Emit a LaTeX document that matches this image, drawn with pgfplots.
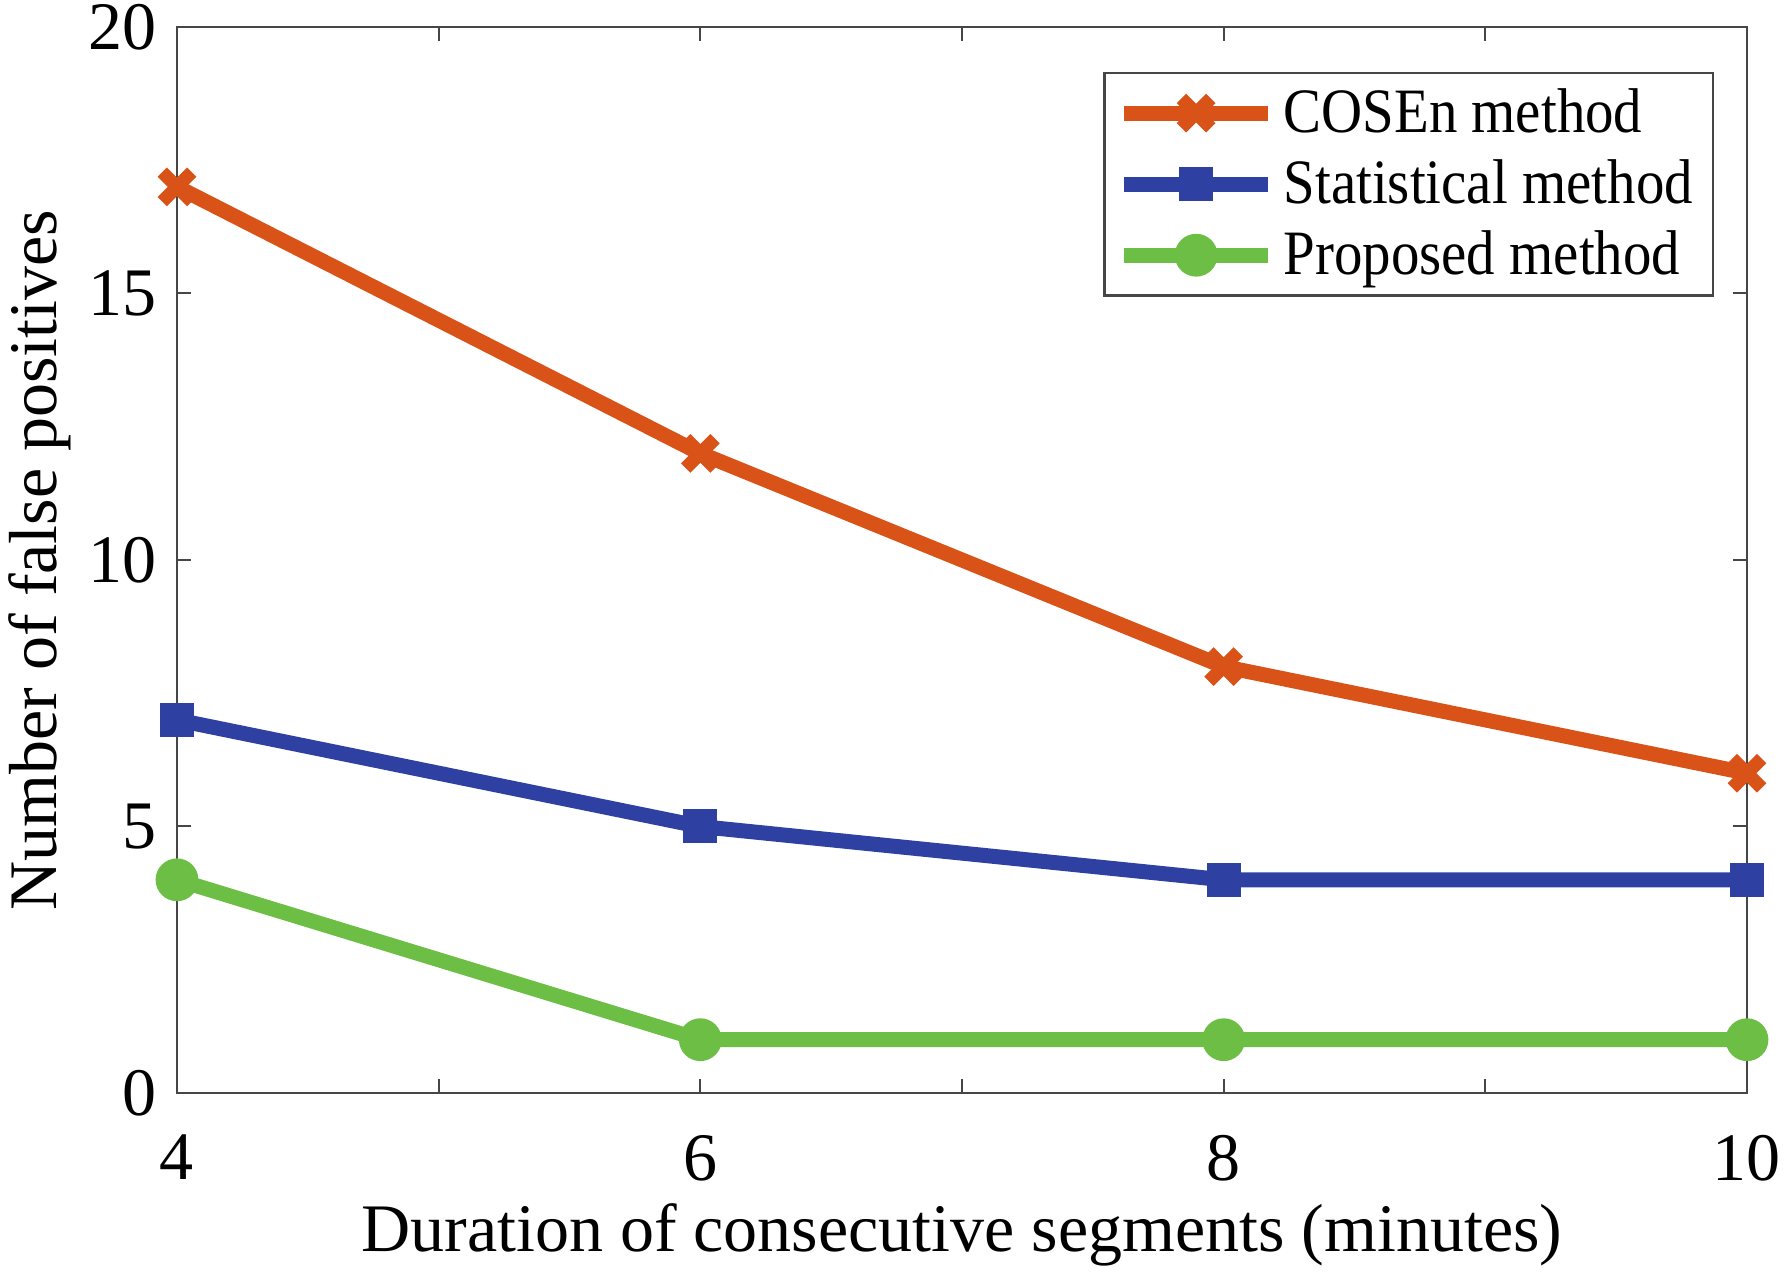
\documentclass[border=0pt]{standalone}
\usepackage{fontspec}
\setmainfont{Liberation Serif}
\newfontfamily\legfont{Liberation Serif}[FakeStretch=0.9]
\usepackage{pgfplots}
\pgfplotsset{compat=1.18}
\definecolor{cosen}{RGB}{217,83,25}
\definecolor{stat}{RGB}{46,64,162}
\definecolor{prop}{RGB}{108,190,69}
\definecolor{axgray}{RGB}{70,70,70}
\begin{document}
\begin{tikzpicture}
\useasboundingbox (-44.25pt,-45.25pt) rectangle (402.75pt,273.25pt);
\begin{axis}[
  at={(0,0)}, anchor=south west,
  scale only axis, width=392.5pt, height=266.5pt,
  xmin=4, xmax=10, ymin=0, ymax=20,
  xtick={4,5,6,7,8,9,10}, xticklabels={4,,6,,8,,10},
  ytick={0,5,10,15,20},
  tick align=inside, major tick length=3.5pt,
  every tick/.style={axgray, line width=0.5pt},
  axis line style={axgray, line width=0.5pt},
  font=\fontsize{17}{20}\selectfont,
  /pgf/number format/assume math mode=true,
  xticklabel style={yshift=-7pt},
  yticklabel style={xshift=-1.5pt},
  xlabel={Duration of consecutive segments (minutes)},
  ylabel={Number of false positives},
  xlabel style={at={(axis description cs:0.5,-0.1332)}, anchor=center},
  ylabel style={at={(axis description cs:-0.0873,0.5)}, anchor=center},
  legend style={at={(0.979,0.958)}, anchor=north east, draw=axgray, line width=0.6pt,
    font=\legfont\fontsize{15.8}{19}\selectfont, inner xsep=3pt, inner ysep=1.8pt,
    row sep=1.3pt, cells={anchor=west}},
  legend cell align=left,
  legend image code/.code={\draw[mark repeat=2,mark phase=2,#1] plot coordinates {(0pt,0pt) (18pt,0pt) (36pt,0pt)};},
]
\addplot[cosen, line width=3.75pt, mark=x, mark size=5.2pt, mark options={line width=3.3pt}]
  coordinates {(4,17) (6,12) (8,8) (10,6)};
\addlegendentry{COSEn method}
\addplot[stat, line width=3.75pt, mark=square*, mark size=4pt, mark options={line width=0.5pt}]
  coordinates {(4,7) (6,5) (8,4) (10,4)};
\addlegendentry{Statistical method}
\addplot[prop, line width=3.75pt, mark=*, mark size=5.1pt, mark options={line width=0.5pt}]
  coordinates {(4,4) (6,1) (8,1) (10,1)};
\addlegendentry{Proposed method}
\end{axis}
\end{tikzpicture}
\end{document}
